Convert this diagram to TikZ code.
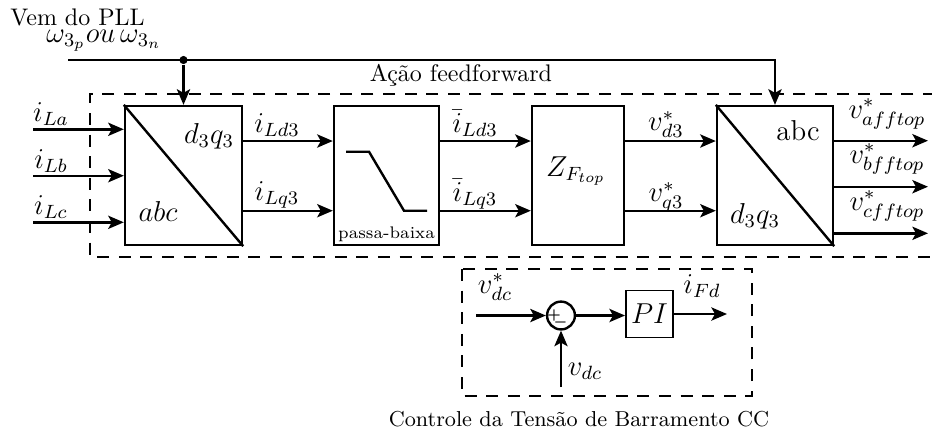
\documentclass[tikz,border=0pt]{standalone}
\usetikzlibrary{arrows.meta,calc}
\begin{document}
\begin{tikzpicture}[x=0.41667pt,y=-0.41667pt,
  blk/.style={draw, line width=1pt, minimum width=#1, minimum height=57.9pt, inner sep=0pt},
  arr/.style={line width=1pt, -{Stealth[length=6.5pt,width=5.5pt,inset=1.5pt]}},
  ln/.style={line width=1pt},
  dbox/.style={line width=1pt, dash pattern=on 5pt off 4pt},
  lab/.style={font=\large, inner sep=0pt, anchor=base},
  txt/.style={inner sep=0pt, anchor=base},
  sgn/.style={inner sep=0pt, font=\fontsize{5.5}{5.5}\selectfont\boldmath}]
\useasboundingbox (0,0) rectangle (932,437);

% texts
\node[txt] (vem) at (77.5,25) {Vem do PLL};
\node[lab] (omega) at (104,42) {$\omega_{3_p} ou\,\omega_{3_n}$};
\node[txt] (acao) at (461,81.7) {Ação feedforward};
\node[txt,font=\small] (ctrl) at (579,426) {Controle da Tensão de Barramento CC};

% dashed boxes
\draw[dbox] (935,94) -- (90,94) -- (90,257) -- (935,257);
\draw[dbox] (462,269) rectangle (752,396);

% blocks
\node[blk=48.75pt] (B1) at (183.5,175.5) {};
\node[blk=43.75pt] (B2) at (386.5,175.5) {};
\node[blk=38.33pt] (B3) at (578,175.5) {};
\node[blk=48.33pt] (B4) at (775,175.5) {};
\draw[ln] (B1.north west) -- (B1.south east);
\draw[ln] (B4.north west) -- (B4.south east);

% block texts
\node[lab] (t1a) at (209,143.3) {$d_3q_3$};
\node[lab] (t1b) at (158,221.7) {$abc$};
\node[lab] (t4a) at (798,140.7) {abc};
\node[lab] (t4b) at (755,223.3) {$d_3q_3$};
\node[lab] (z) at (576,176) {$Z_{F_{top}}$};
\node[txt,font=\scriptsize] (pb) at (386.5,238) {passa-baixa};
\draw[ln] (346,151.7) -- (369,151.7) -- (404,210.7) -- (427,210.7);

% top PLL line
\coordinate (pll) at (68,60);
\node[circle,fill,inner sep=0pt,minimum size=3.4pt] (J) at (B1.north |- pll) {};
\draw[arr] (pll) -| (B4.north);
\draw[arr] (J) -- (B1.north);

% inputs
\coordinate (inA) at (33,129.3);
\coordinate (inB) at (33,175.7);
\coordinate (inC) at (33,222.3);
\draw[arr] (inA) -- (inA -| B1.west);
\draw[arr] (inB) -- (inB -| B1.west);
\draw[arr] (inC) -- (inC -| B1.west);
\node[lab] (iLa) at (51,121.5) {$i_{La}$};
\node[lab] (iLb) at (51,168) {$i_{Lb}$};
\node[lab] (iLc) at (51,214.5) {$i_{Lc}$};

% rows
\coordinate (rd) at (0,141);
\coordinate (rq) at (0,210.7);
\draw[arr] (B1.east |- rd) -- (B2.west |- rd);
\draw[arr] (B1.east |- rq) -- (B2.west |- rq);
\draw[arr] (B2.east |- rd) -- (B3.west |- rd);
\draw[arr] (B2.east |- rq) -- (B3.west |- rq);
\draw[arr] (B3.east |- rd) -- (B4.west |- rd);
\draw[arr] (B3.east |- rq) -- (B4.west |- rq);
\node[lab] (iLd) at (277,132.5) {$i_{Ld3}$};
\node[lab] (iLq) at (277,200.5) {$i_{Lq3}$};
\node[lab] (biLd) at (475,132.5) {$\bar{i}_{Ld3}$};
\node[lab] (biLq) at (475,201.5) {$\bar{i}_{Lq3}$};
\node[lab] (vd) at (666,130.5) {$v^*_{d3}$};
\node[lab] (vq) at (666,201.5) {$v^*_{q3}$};

% outputs
\coordinate (oA) at (928,140.7);
\coordinate (oB) at (928,186.7);
\coordinate (oC) at (928,233.3);
\draw[arr] (B4.east |- oA) -- (oA);
\draw[arr] (B4.east |- oB) -- (oB);
\draw[arr] (B4.east |- oC) -- (oC);
\node[lab] (va) at (887,118.3) {$v^*_{afftop}$};
\node[lab] (vb) at (887,163.3) {$v^*_{bfftop}$};
\node[lab] (vc) at (887,210) {$v^*_{cfftop}$};

% DC bus control
\node[draw,circle,line width=1pt,minimum size=11.6pt,inner sep=0pt] (S) at (561,315.5) {};
\node[sgn] (plus) at (554,315) {$+$};
\node[sgn] (minus) at (560.5,322.5) {$-$};
\node[draw,line width=0.8pt,minimum size=19.6pt,inner sep=0pt,font=\large] (PI) at (649.5,314) {$PI$};
\coordinate (vref) at (476,315.5);
\coordinate (vdcin) at (561,387);
\coordinate (iout) at (727,314);
\draw[arr] (vref) -- (S.west);
\draw[arr] (vdcin) -- (S.south);
\draw[arr] (S.east) -- (S.east -| PI.west);
\draw[arr] (PI.east) -- (iout);
\node[lab] (vdcs) at (495,293) {$v^*_{dc}$};
\node[lab] (vdc) at (585,375) {$v_{dc}$};
\node[lab] (iFd) at (702,293) {$i_{Fd}$};
\end{tikzpicture}
\end{document}
